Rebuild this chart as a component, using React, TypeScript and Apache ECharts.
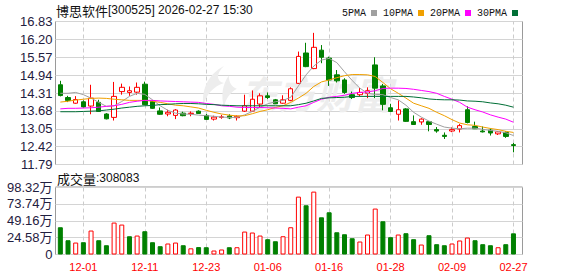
import React, { useEffect, useRef } from 'react';
import * as echarts from 'echarts';

const dates = [
  '11-26', '11-27', '11-28', '12-01', '12-02', '12-03', '12-04', '12-05', '12-08', '12-09',
  '12-10', '12-11', '12-12', '12-15', '12-16', '12-17', '12-18', '12-19', '12-22', '12-23',
  '12-24', '12-25', '12-26', '12-29', '12-30', '12-31', '01-05', '01-06', '01-07', '01-08',
  '01-09', '01-12', '01-13', '01-14', '01-15', '01-16', '01-19', '01-20', '01-21', '01-22',
  '01-23', '01-26', '01-27', '01-28', '01-29', '01-30', '02-02', '02-03', '02-04', '02-05',
  '02-06', '02-09', '02-10', '02-11', '02-12', '02-13', '02-24', '02-25', '02-26', '02-27',
];

const openPrices = [
  14.60, 14.15, 13.95, 14.00, 13.85, 13.98, 13.57, 13.45, 14.36, 14.33,
  14.34, 14.62, 14.01, 13.68, 13.57, 13.52, 13.60, 13.58, 13.67, 13.52,
  13.39, 13.45, 13.50, 13.44, 13.67, 13.67, 13.92, 14.21, 14.07, 13.95,
  14.05, 14.65, 15.72, 15.17, 15.82, 15.54, 14.95, 14.77, 14.25, 14.25,
  14.30, 15.30, 14.56, 13.79, 13.56, 13.75, 13.30, 13.29, 13.30, 13.02,
  12.82, 12.97, 13.04, 13.72, 13.13, 12.97, 13.00, 12.87, 12.92, 12.49,
];
const closePrices = [
  14.22, 14.05, 14.08, 13.82, 14.13, 13.66, 13.40, 14.19, 14.51, 14.39,
  14.51, 13.90, 13.77, 13.56, 13.63, 13.71, 13.51, 13.60, 13.59, 13.38,
  13.46, 13.47, 13.43, 13.49, 13.86, 14.09, 14.21, 14.15, 13.93, 14.07,
  14.46, 15.60, 15.24, 15.92, 15.57, 14.77, 14.74, 14.33, 14.15, 14.33,
  14.39, 14.48, 13.91, 13.66, 13.72, 13.31, 13.20, 13.39, 13.20, 12.97,
  12.78, 13.02, 13.16, 13.27, 13.05, 12.94, 12.90, 12.94, 12.78, 12.46,
];
const lowPrices = [
  14.19, 13.99, 13.93, 13.80, 13.56, 13.64, 13.38, 13.34, 14.25, 14.21,
  14.25, 13.88, 13.75, 13.54, 13.49, 13.39, 13.49, 13.49, 13.58, 13.37,
  13.34, 13.40, 13.39, 13.34, 13.64, 13.64, 13.78, 14.10, 13.92, 13.93,
  14.02, 14.63, 15.22, 15.15, 15.36, 14.56, 14.68, 14.28, 14.10, 14.19,
  14.13, 14.13, 13.70, 13.64, 13.34, 13.29, 13.19, 13.19, 12.96, 12.91,
  12.69, 12.93, 12.92, 13.24, 13.04, 12.92, 12.81, 12.83, 12.73, 12.22,
];
const highPrices = [
  14.74, 14.21, 14.20, 14.05, 14.60, 14.07, 13.60, 14.70, 14.64, 14.54,
  14.68, 14.71, 14.05, 13.80, 13.72, 13.74, 13.65, 13.66, 13.70, 13.57,
  13.51, 13.54, 13.56, 13.52, 14.25, 14.40, 14.30, 14.33, 14.10, 14.23,
  14.51, 15.77, 16.08, 16.43, 16.00, 15.59, 15.12, 14.83, 14.36, 14.49,
  14.51, 15.57, 14.63, 13.93, 14.05, 13.78, 13.52, 13.42, 13.32, 13.11,
  12.92, 13.10, 13.22, 13.84, 13.30, 13.13, 13.06, 12.97, 12.96, 12.55,
];

const volumes = [
  397000, 208000, 174000, 179000, 349000, 208000, 135000, 465000, 436000, 266000,
  276000, 339000, 179000, 121000, 160000, 174000, 135000, 90000, 108000, 106000,
  58000, 73000, 106000, 106000, 334000, 320000, 276000, 223000, 193000, 266000,
  397000, 843000, 717000, 916000, 542000, 615000, 324000, 295000, 237000, 189000,
  291000, 669000, 484000, 252000, 291000, 310000, 223000, 145000, 281000, 150000,
  135000, 160000, 204000, 247000, 208000, 150000, 135000, 106000, 150000, 308083,
];

const ma5 = [
  14.30, 14.30, 14.33, 14.25, 14.13, 13.98, 13.84, 13.86, 14.01, 14.19,
  14.30, 14.26, 14.07, 13.86, 13.70, 13.60, 13.57, 13.56, 13.53, 13.51,
  13.49, 13.46, 13.45, 13.45, 13.54, 13.66, 13.81, 13.93, 14.00, 14.05,
  14.16, 14.56, 14.95, 15.26, 15.47, 15.53, 15.38, 15.06, 14.75, 14.48,
  14.30, 14.26, 14.25, 14.15, 14.07, 13.88, 13.63, 13.46, 13.32, 13.21,
  13.11, 13.07, 13.05, 13.07, 13.07, 13.03, 12.99, 12.96, 12.91, 12.81,
];
const ma10 = [
  13.99, 14.02, 14.06, 14.09, 14.12, 14.13, 14.12, 14.09, 14.07, 14.05,
  14.05, 14.05, 14.02, 13.98, 13.93, 13.88, 13.86, 13.82, 13.78, 13.70,
  13.63, 13.57, 13.53, 13.50, 13.51, 13.58, 13.66, 13.72, 13.80, 13.86,
  13.98, 14.13, 14.30, 14.54, 14.70, 14.77, 14.85, 14.92, 14.96, 14.96,
  14.95, 14.89, 14.68, 14.46, 14.30, 14.13, 13.95, 13.86, 13.77, 13.63,
  13.51, 13.37, 13.25, 13.19, 13.17, 13.11, 13.06, 13.02, 12.96, 12.92,
];
const ma20 = [
  13.75, 13.77, 13.77, 13.78, 13.79, 13.81, 13.84, 13.86, 13.91, 13.98,
  14.02, 14.05, 14.05, 14.03, 14.02, 14.01, 14.00, 13.99, 13.98, 13.94,
  13.91, 13.86, 13.84, 13.81, 13.80, 13.80, 13.80, 13.79, 13.78, 13.77,
  13.75, 13.81, 13.86, 13.98, 14.09, 14.16, 14.19, 14.23, 14.30, 14.33,
  14.35, 14.39, 14.47, 14.48, 14.48, 14.47, 14.44, 14.40, 14.36, 14.30,
  14.19, 14.09, 13.98, 13.81, 13.72, 13.64, 13.54, 13.46, 13.39, 13.28,
];
const ma30 = [
  13.65, 13.65, 13.65, 13.66, 13.67, 13.68, 13.71, 13.74, 13.78, 13.81,
  13.84, 13.86, 13.87, 13.90, 13.91, 13.93, 13.94, 13.94, 13.93, 13.91,
  13.90, 13.88, 13.87, 13.86, 13.86, 13.86, 13.86, 13.86, 13.86, 13.86,
  13.86, 13.90, 13.95, 14.03, 14.12, 14.14, 14.15, 14.16, 14.19, 14.19,
  14.19, 14.19, 14.19, 14.19, 14.19, 14.19, 14.17, 14.14, 14.10, 14.08,
  14.07, 14.07, 14.06, 14.03, 14.02, 14.00, 13.96, 13.93, 13.88, 13.81,
];

const priceTicks = ['11.79', '12.42', '13.05', '13.68', '14.31', '14.94', '15.57', '16.20', '16.83'];
const priceMin = 11.79;
const priceMax = 16.83;
const volumeMax = 983200;
const volumeStep = 245800;

const stockName = '博思软件';
const stockInfo = '[300525] 2026-02-27 15:30';
const volumeLabel = '成交量';
const maNames = ['5PMA', '10PMA', '20PMA', '30PMA'];
const maColors = ['#a0a0a0', '#f0a000', '#ff00ff', '#006f36'];

const UP = '#ff0000';
const DOWN = '#008000';

echarts.graphic.registerShape(
  'emlogo',
  echarts.graphic.extendPath(
    'M30 0 C12 8 2 22 4 42 C8 30 16 22 30 18 C20 16 20 8 30 0 Z M36 10 C28 20 26 30 30 44 C32 34 38 28 46 24 C40 22 36 18 36 10 Z',
    {}
  )
);

export default function App() {
  const ref = useRef<HTMLDivElement>(null);

  useEffect(() => {
    const chart = echarts.init(ref.current!, null, { renderer: 'svg' });
    const labelInterval = (index: number) => index % 8 === 3;
    const candleData = dates.map((_, i) => [openPrices[i], closePrices[i], lowPrices[i], highPrices[i]]);
    const volumeData = volumes.map((v, i) => {
      const up = i === 0 ? closePrices[i] >= openPrices[i] : closePrices[i] >= closePrices[i - 1];
      return {
        value: v,
        itemStyle: up
          ? { color: '#ffffff', borderColor: UP, borderWidth: 1 }
          : { color: DOWN, borderColor: DOWN, borderWidth: 1 },
      };
    });
    const maSeries = [ma5, ma10, ma20, ma30].map((arr, k) => ({
      name: maNames[k],
      type: 'line',
      xAxisIndex: 1,
      yAxisIndex: 1,
      data: arr,
      showSymbol: false,
      symbol: 'none',
      color: maColors[k],
      lineStyle: { width: 1, color: maColors[k] },
      z: 3,
    }));

    const axisLabelColor = '#1f2040';
    const gridLeft = 55.5;
    const gridWidth = 467;
    const dataLeft = 56.5;
    const dataWidth = 460.8;
    const mainTop = 21.5;
    const mainHeight = 143;
    const volTop = 187;
    const volHeight = 67.5;

    chart.setOption({
      animation: false,
      backgroundColor: '#ffffff',
      textStyle: { fontFamily: "'Liberation Sans', 'Noto Sans CJK SC', sans-serif" },
      legend: {
        data: maNames,
        left: 337,
        top: 3,
        align: 'right',
        icon: 'rect',
        itemWidth: 6,
        itemHeight: 6,
        itemGap: 6,
        selectedMode: false,
        textStyle: { fontFamily: "'Liberation Mono', monospace", fontSize: 10, color: '#111111' },
      },
      grid: [
        { left: gridLeft, top: mainTop, width: gridWidth, height: mainHeight, show: true, borderColor: '#9a9a9a', borderWidth: 1, backgroundColor: 'transparent' },
        { left: dataLeft, top: mainTop, width: dataWidth, height: mainHeight },
        { left: gridLeft, top: volTop, width: gridWidth, height: volHeight, show: true, borderColor: '#9a9a9a', borderWidth: 1, backgroundColor: 'transparent' },
        { left: dataLeft, top: volTop, width: dataWidth, height: volHeight },
      ],
      xAxis: [
        { gridIndex: 0, type: 'value', min: 0, max: 1, show: false },
        {
          gridIndex: 1,
          type: 'category',
          data: dates,
          boundaryGap: true,
          axisLine: { show: false },
          axisLabel: { show: false },
          splitLine: { show: false },
          axisTick: {
            show: true,
            inside: true,
            length: mainHeight,
            alignWithLabel: true,
            interval: labelInterval,
            lineStyle: { color: '#cccccc', type: [4, 3], width: 1 },
          },
        },
        { gridIndex: 2, type: 'value', min: 0, max: 1, show: false },
        {
          gridIndex: 3,
          type: 'category',
          data: dates,
          boundaryGap: true,
          axisLine: { show: false },
          splitLine: { show: false },
          axisTick: {
            show: true,
            inside: true,
            length: volHeight,
            alignWithLabel: true,
            interval: labelInterval,
            lineStyle: { color: '#cccccc', type: [4, 3], width: 1 },
          },
          axisLabel: {
            show: true,
            interval: labelInterval,
            color: UP,
            fontSize: 11,
            margin: 7,
            fontFamily: "'Liberation Sans', sans-serif",
          },
        },
      ],
      yAxis: [
        {
          gridIndex: 0,
          type: 'value',
          min: 0,
          max: priceTicks.length - 1,
          interval: 1,
          axisLine: { show: false },
          axisTick: { show: false },
          axisLabel: {
            formatter: (v: number) => priceTicks[Math.round(v)],
            color: axisLabelColor,
            fontSize: 13,
            margin: 3,
          },
          splitLine: { show: true, lineStyle: { color: '#d4d4d4', width: 1 } },
        },
        { gridIndex: 1, type: 'value', min: priceMin, max: priceMax, show: false, splitLine: { show: false } },
        {
          gridIndex: 2,
          type: 'value',
          min: 0,
          max: volumeMax,
          interval: volumeStep,
          axisLine: { show: false },
          axisTick: { show: false },
          axisLabel: {
            formatter: (v: number) => (v === 0 ? '0' : (v / 10000).toFixed(2) + '万'),
            color: axisLabelColor,
            fontSize: 13,
            margin: 3,
          },
          splitLine: { show: true, lineStyle: { color: '#d4d4d4', width: 1 } },
        },
        { gridIndex: 3, type: 'value', min: 0, max: volumeMax, show: false, splitLine: { show: false } },
      ],
      graphic: [
        {
          type: 'emlogo',
          x: 200,
          y: 66,
          scaleX: 0.8,
          scaleY: 0.95,
          silent: true,
          z: 1,
          style: { fill: '#ededed' },
        },
        {
          type: 'text',
          x: 240,
          y: 92,
          silent: true,
          z: 1,
          style: {
            text: '东方财富',
            fill: '#ededed',
            fontSize: 38,
            fontWeight: 'bold',
            fontStyle: 'italic',
            fontFamily: "'Noto Sans CJK SC', sans-serif",
            verticalAlign: 'middle',
          },
        },
        {
          type: 'text',
          x: 56,
          y: 10,
          z: 10,
          style: {
            text: `{cn|${stockName}}{en|${stockInfo}}`,
            verticalAlign: 'middle',
            rich: {
              cn: { fontSize: 13, fontFamily: "'Noto Sans CJK SC', sans-serif", fill: '#111111' },
              en: { fontSize: 12, fontFamily: "'Liberation Sans', sans-serif", fill: '#111111' },
            },
          },
        },
        {
          type: 'text',
          x: 57,
          y: 178,
          z: 10,
          style: {
            text: `{cn|${volumeLabel}}{en|:${volumes[volumes.length - 1]}}`,
            verticalAlign: 'middle',
            rich: {
              cn: { fontSize: 13, fontFamily: "'Noto Sans CJK SC', sans-serif", fill: '#111111' },
              en: { fontSize: 12, fontFamily: "'Liberation Sans', sans-serif", fill: '#111111' },
            },
          },
        },
      ],
      series: [
        {
          type: 'candlestick',
          xAxisIndex: 1,
          yAxisIndex: 1,
          data: candleData,
          barWidth: 5,
          z: 2,
          itemStyle: {
            color: '#ffffff',
            color0: DOWN,
            borderColor: UP,
            borderColor0: DOWN,
            borderWidth: 1,
          },
        },
        ...maSeries,
        {
          type: 'bar',
          xAxisIndex: 3,
          yAxisIndex: 3,
          data: volumeData,
          barWidth: 5,
          z: 2,
        },
      ],
    });

    return () => chart.dispose();
  }, []);

  return (
    <div
      ref={ref}
      style={{ position: 'fixed', left: 0, top: 0, width: 578, height: 276 }}
    />
  );
}
